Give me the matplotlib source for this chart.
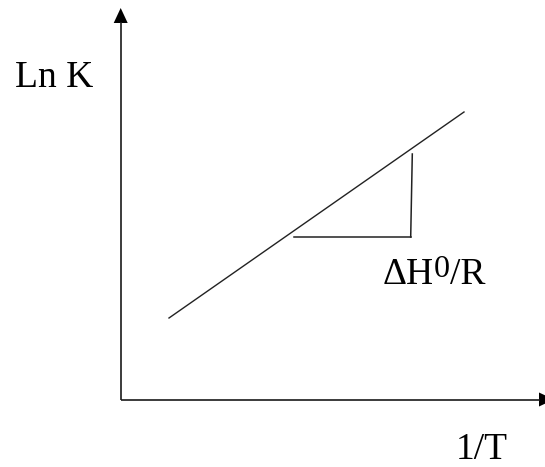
import matplotlib
matplotlib.use("Agg")
import matplotlib.pyplot as plt
from matplotlib.patches import Polygon

# Van't Hoff schematic: ln K against 1/T (canvas units, y pointing up)
inv_T = [169, 464]
ln_K = [149, 355]

# slope triangle under the line
tri_run_x = [294, 410.7]
tri_run_y = [230, 230]
tri_rise_x = [410.7, 412.3]
tri_rise_y = [230, 313]

# axis origin and arrow tips
origin = (120.7, 67.5)
y_tip = 459
x_tip = 554

y_label = "Ln K"
x_label = "1/T"
slope_parts = ["\u0394H", "0", "/R"]

fig = plt.figure(figsize=(5.45, 4.67), dpi=100)
ax = fig.add_axes([0, 0, 1, 1])
ax.set_xlim(0, 545)
ax.set_ylim(0, 467)
ax.axis("off")

axis_color = "#1a1a1a"
ox, oy = origin
# vertical axis with arrow head
ax.plot([ox, ox], [oy, y_tip - 14], color=axis_color, lw=1.2, solid_capstyle="butt")
ax.add_patch(Polygon([[ox - 7, y_tip - 15], [ox + 7, y_tip - 15], [ox, y_tip]],
                     closed=True, color="black", lw=0))
# horizontal axis with arrow head
ax.plot([ox, x_tip - 14], [oy, oy], color=axis_color, lw=1.2, solid_capstyle="butt")
ax.add_patch(Polygon([[x_tip - 15, oy - 7], [x_tip - 15, oy + 7], [x_tip, oy]],
                     closed=True, color="black", lw=0))

# straight line and slope triangle
ax.plot(inv_T, ln_K, color="#222222", lw=1.0)
ax.plot(tri_run_x, tri_run_y, color="#222222", lw=1.1)
ax.plot(tri_rise_x, tri_rise_y, color="#222222", lw=1.1)

serif = ["Liberation Serif", "DejaVu Serif"]
ax.text(15, 380, y_label, fontsize=27, family=serif, ha="left", va="baseline")
ax.text(456, 8, x_label, fontsize=27, family=serif, ha="left", va="baseline")

# slope label: ΔH, raised 0, then /R
ax.text(383, 183, slope_parts[0], fontsize=27, family=serif, ha="left", va="baseline")
ax.text(434, 190, slope_parts[1], fontsize=23, family=serif, ha="left", va="baseline")
ax.text(450, 183, slope_parts[2], fontsize=27, family=serif, ha="left", va="baseline")

fig.savefig("out.png", dpi=100)
